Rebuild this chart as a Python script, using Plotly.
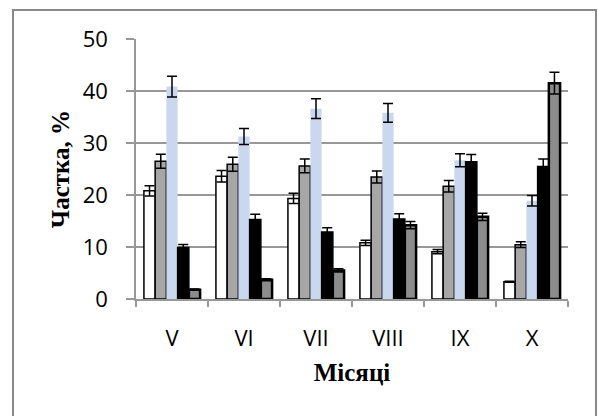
import plotly.graph_objects as go

months = ["V", "VI", "VII", "VIII", "IX", "X"]

s1 = [20.8, 23.6, 19.35, 10.8, 9.1, 3.3]
s1_err = [1.0, 1.1, 1.0, 0.5, 0.4, 0.1]
s2 = [26.5, 25.9, 25.6, 23.45, 21.7, 10.45]
s2_err = [1.35, 1.35, 1.3, 1.15, 1.1, 0.55]
s3 = [40.85, 31.25, 36.6, 35.8, 26.7, 18.9]
s3_err = [2.0, 1.55, 1.9, 1.8, 1.25, 1.0]
s4 = [9.9, 15.3, 12.9, 15.4, 26.4, 25.5]
s4_err = [0.6, 1.0, 0.8, 1.0, 1.4, 1.4]
s5 = [1.8, 3.7, 5.5, 14.2, 15.8, 41.5]
s5_err = [0.1, 0.2, 0.3, 0.7, 0.7, 2.1]

series = [
    (s1, s1_err, "#ffffff", "#000000", 1.5),
    (s2, s2_err, "#a6a6a6", "#000000", 1.5),
    (s3, s3_err, "#c9d7ef", "#c9d7ef", 0),
    (s4, s4_err, "#000000", "#000000", 1.5),
    (s5, s5_err, "#8c8c8c", "#000000", 2.5),
]

fig = go.Figure()
for vals, errs, fill, line, lw in series:
    fig.add_trace(go.Bar(
        x=months, y=vals,
        marker=dict(color=fill, line=dict(color=line, width=lw)),
        error_y=dict(type="data", array=errs, visible=True,
                     color="#000000", thickness=1.5, width=5),
        showlegend=False,
    ))

grid = "#989898"
fig.update_layout(
    width=598, height=416,
    margin=dict(l=136, r=30, t=39, b=117),
    paper_bgcolor="white", plot_bgcolor="white",
    barmode="group", bargap=0.22, bargroupgap=0,
    font=dict(family="Open Sans", size=22, color="#000000"),
    xaxis=dict(
        showline=True, linecolor=grid, linewidth=1.5,
        ticks="outside", tickson="boundaries", ticklen=6, tickcolor=grid,
        tickwidth=1.5, ticklabelstandoff=19,
        tickfont=dict(family="Open Sans", size=22),
        title=dict(text="<b>Місяці</b>", standoff=12,
                   font=dict(family="Liberation Serif", size=25)),
    ),
    yaxis=dict(
        range=[0, 50], dtick=10, showgrid=True, gridcolor=grid, gridwidth=1.5,
        zeroline=False, showline=True, linecolor=grid, linewidth=1.5,
        ticks="outside", ticklen=8, tickcolor=grid, tickwidth=1.5,
        ticklabelstandoff=14,
        tickfont=dict(family="Open Sans", size=22),
        title=dict(text="<b>Частка, %</b>", standoff=6,
                   font=dict(family="Liberation Serif", size=25)),
    ),
    shapes=[dict(type="rect", xref="paper", yref="paper",
                 x0=(13 - 136) / 432, x1=(596 - 136) / 432,
                 y0=-0.5, y1=(299 - 10) / 260,
                 line=dict(color="#898989", width=2), fillcolor="rgba(0,0,0,0)",
                 layer="below")],
)

fig.write_html("out.html")
